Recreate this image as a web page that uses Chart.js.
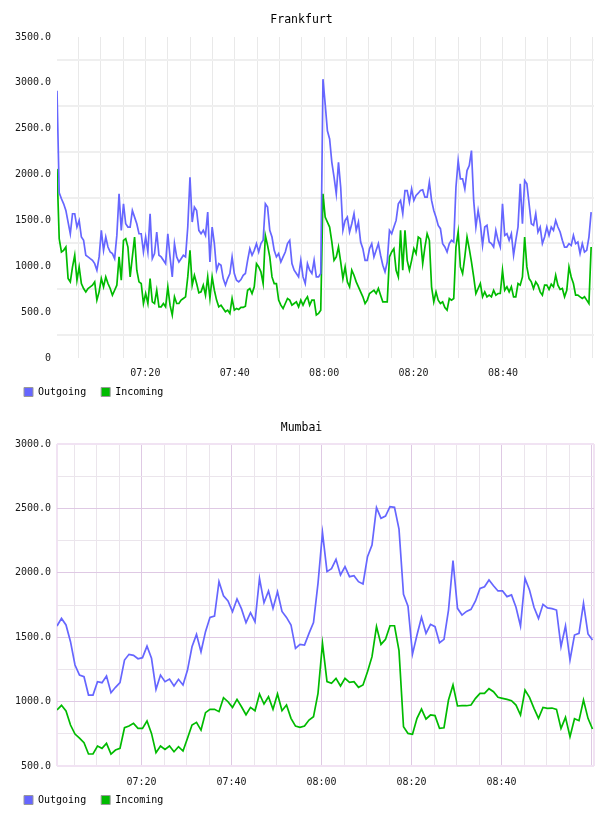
<!DOCTYPE html>
<html><head><meta charset="utf-8">
<script src="https://cdn.jsdelivr.net/npm/chart.js@4.4.0/dist/chart.umd.min.js"></script>
<style>
html,body{margin:0;padding:0;background:#fff;}
#wrap{position:relative;width:608px;height:816px;background:#fff;}
canvas{position:absolute;left:0;}
</style></head><body>
<div id="wrap">
<canvas id="c1" width="608" height="408" style="top:0"></canvas>
<canvas id="c2" width="608" height="408" style="top:408px"></canvas>
</div>
<script>
// ---------------- data ----------------
const SERIES_NAMES = ['Outgoing', 'Incoming'];
const CHART_TITLES = ['Frankfurt', 'Mumbai'];
const TIME_TICK_LABELS = ['07:20', '07:40', '08:00', '08:20', '08:40'];
const FRA_Y_TICK_LABELS = ['0', '500.0', '1000.0', '1500.0', '2000.0', '2500.0', '3000.0', '3500.0'];
const MUM_Y_TICK_LABELS = ['500.0', '1000.0', '1500.0', '2000.0', '2500.0', '3000.0'];

// sample times (seconds since midnight) for first sample, and sampling interval
const FRA_START_S = 25214;   // 07:00:14
const FRA_STEP_S = 29.75;
const MUM_START_S = 25273;   // 07:01:13
const MUM_STEP_S = 60;

const FRA_OUT = [
2913,1800,1736,1681,1609,1482,1355,1573,1573,1428,
1500,1319,1283,1120,1102,1083,1065,1029,957,1102,
1392,1174,1319,1210,1156,1138,1083,1337,1790,1392,
1681,1464,1428,1428,1609,1536,1464,1355,1355,1156,
1319,1156,1573,1083,1138,1374,1120,1102,1065,1029,
1355,1102,884,1247,1102,1047,1083,1120,1102,1428,
1971,1482,1645,1609,1392,1355,1392,1337,1591,1047,
1428,1247,957,1029,1011,866,794,866,921,1102,
921,848,830,855,902,921,1065,1192,1120,1174,
1247,1156,1247,1283,1681,1645,1392,1319,1174,1102,
1138,1047,1102,1156,1247,1283,1029,957,921,884,
1065,884,812,1029,957,921,1065,884,884,921,
3040,2768,2478,2388,2134,1971,1790,2134,1862,1392,
1500,1536,1374,1464,1573,1392,1482,1265,1192,1065,
1065,1192,1247,1102,1174,1247,1120,1011,939,1047,
1392,1355,1428,1500,1681,1718,1573,1826,1826,1700,
1844,1718,1772,1797,1826,1833,1754,1754,1917,1718,
1609,1536,1446,1410,1247,1210,1156,1247,1283,1265,
1862,2152,1953,1953,1844,2044,2098,2261,1718,1428,
1609,1464,1228,1428,1446,1265,1247,1210,1392,1283,
1210,1681,1337,1355,1283,1355,1120,1283,1428,1899,
1464,1935,1899,1681,1464,1446,1573,1374,1428,1247,
1319,1428,1337,1428,1392,1500,1428,1374,1283,1210,
1210,1247,1228,1337,1247,1265,1138,1247,1156,1174,
1319,1591
];
const FRA_IN = [
2062,1300,1156,1174,1210,866,830,993,1120,848,
993,812,758,721,758,776,794,830,631,721,
866,776,884,812,758,685,739,794,1102,848,
1283,1301,1210,884,1102,1319,957,830,812,594,
703,594,866,612,594,739,558,558,594,558,
776,576,468,667,594,594,631,649,667,884,
1174,794,902,812,710,721,794,685,884,649,
884,739,631,558,576,540,504,522,486,649,
522,540,529,551,551,565,739,758,703,776,
1029,993,939,812,1337,1228,1102,884,812,812,
631,576,540,594,649,631,576,594,612,558,
631,576,631,667,576,631,631,468,486,522,
1790,1536,1482,1428,1265,1065,1102,1210,1047,866,
993,830,776,957,902,830,776,721,667,594,
631,703,721,739,703,758,685,612,612,612,
1102,1156,1192,957,884,1392,957,1392,1065,957,
1065,1192,1138,1319,1301,1029,1210,1355,1283,776,
612,721,631,594,612,551,522,649,631,649,
1210,1374,993,921,1102,1319,1192,1047,884,703,
758,812,667,721,667,685,667,739,685,703,
703,957,739,776,721,776,667,667,812,794,
884,1319,993,866,830,758,830,794,721,685,
794,794,747,805,776,902,794,747,758,667,
739,993,884,812,685,685,667,649,667,631,
594,1210
];
const MUM_OUT = [
1587,1646,1595,1465,1284,1206,1193,1051,1051,1155,
1147,1199,1069,1111,1147,1323,1367,1359,1333,1341,
1431,1336,1095,1206,1155,1175,1121,1173,1129,1245,
1426,1522,1387,1543,1654,1664,1931,1822,1781,1698,
1797,1720,1613,1690,1620,1957,1768,1859,1724,1853,
1700,1654,1595,1413,1444,1439,1530,1613,1918,2312,
2009,2032,2105,1983,2048,1970,1978,1931,1913,2125,
2216,2506,2423,2441,2513,2508,2340,1833,1740,1369,
1517,1654,1530,1600,1582,1457,1483,1711,2094,1724,
1672,1700,1716,1781,1879,1892,1944,1900,1859,1859,
1815,1828,1732,1587,1957,1866,1732,1646,1755,1727,
1722,1711,1426,1587,1323,1517,1530,1763,1525,1478
];
const MUM_IN = [
935,971,927,818,748,717,681,593,593,655,
637,676,593,624,637,797,810,831,792,792,
849,753,603,655,629,655,611,650,616,715,
818,839,779,914,940,940,922,1030,999,955,
1017,960,898,955,929,1059,981,1038,940,1059,
929,973,870,810,800,810,857,883,1064,1452,
1155,1142,1180,1121,1180,1149,1155,1111,1129,1232,
1349,1582,1444,1483,1589,1589,1395,805,753,746,
870,942,865,896,891,792,797,1012,1129,966,
968,968,973,1025,1064,1064,1100,1077,1033,1025,
1017,1007,973,896,1090,1033,948,870,955,948,
950,940,792,878,728,867,852,1012,870,787
];

// ---------------- styles ----------------
const OUT_COLOR = '#6666ff';
const IN_COLOR = '#00bb00';
const MONO = "'DejaVu Sans Mono', monospace";
const TEXT_COLOR = '#1a1a1a';

function hhmm(sec) {
  const m = Math.round(sec / 60);
  const h = Math.floor(m / 60), mm = m % 60;
  return String(h).padStart(2, '0') + ':' + String(mm).padStart(2, '0');
}
function toPoints(arr, t0, step) {
  return arr.map((v, i) => ({x: t0 + i * step, y: v}));
}
function range(a, b, s) { const r = []; for (let v = a; v <= b + 1e-9; v += s) r.push(v); return r; }

function buildChart(id, cfg) {
  return new Chart(document.getElementById(id), {
    type: 'line',
    data: {
      datasets: [
        {label: SERIES_NAMES[0], data: toPoints(cfg.out, cfg.t0, cfg.step), borderColor: OUT_COLOR, backgroundColor: OUT_COLOR,
         borderWidth: 1.7, pointRadius: 0, tension: 0, fill: false},
        {label: SERIES_NAMES[1], data: toPoints(cfg.inc, cfg.t0, cfg.step), borderColor: IN_COLOR, backgroundColor: IN_COLOR,
         borderWidth: 1.7, pointRadius: 0, tension: 0, fill: false}
      ]
    },
    options: {
      responsive: false, animation: false, devicePixelRatio: 1,
      layout: {padding: {left: 9, right: 14, top: 0, bottom: 1}},
      plugins: {
        title: {display: true, text: cfg.title, color: '#000', font: {family: MONO, size: 11.5, weight: 'normal'},
                padding: {top: 13.1, bottom: cfg.titleBottom}},
        legend: {display: true, position: 'bottom', align: 'start',
          labels: {boxWidth: 9, boxHeight: 9, padding: 15, color: '#000', font: {family: MONO, size: 10},
            generateLabels: (chart) => chart.data.datasets.map((ds, i) => ({
              text: ds.label, fillStyle: ds.borderColor, strokeStyle: '#999', lineWidth: 1,
              hidden: false, datasetIndex: i}))}},
        tooltip: {enabled: false}
      },
      scales: {
        x: {
          type: 'linear', min: cfg.xMin, max: cfg.xMax,
          afterBuildTicks: (s) => { s.ticks = cfg.xTicks.map(v => ({value: v})); },
          afterFit: (s) => { s.height = 14; },
          border: {display: false},
          grid: {drawTicks: false, tickLength: 0, color: cfg.xGridColor, lineWidth: cfg.xGridWidth},
          ticks: {autoSkip: false, maxRotation: 0, minRotation: 0, mirror: true, padding: cfg.xLabelPad, color: TEXT_COLOR,
                  font: {family: MONO, size: 10},
                  callback: (v) => { const s = hhmm(v); return TIME_TICK_LABELS.includes(s) && v % 1200 === 0 ? s : ''; }}
        },
        y: {
          type: 'linear', min: cfg.yMin, max: cfg.yMax,
          afterBuildTicks: (s) => { s.ticks = range(cfg.yMin, cfg.yMax, 250).map(v => ({value: v})); },
          afterFit: (s) => { s.width = 48; },
          border: {display: false},
          grid: {drawTicks: false, tickLength: 0, color: cfg.yGridColor, lineWidth: cfg.yGridWidth},
          ticks: {autoSkip: false, padding: 6, color: TEXT_COLOR, font: {family: MONO, size: 10},
                  callback: (v) => v % 500 === 0 ? cfg.yLabels[(v - cfg.yMin) / 500] : ''}
        }
      }
    }
  });
}

// Frankfurt
const fraXMin = FRA_START_S, fraXMax = FRA_START_S + 7208;
buildChart('c1', {
  title: CHART_TITLES[0], titleBottom: 10.1, xLabelPad: -21,
  out: FRA_OUT, inc: FRA_IN, t0: FRA_START_S, step: FRA_STEP_S,
  xMin: fraXMin, xMax: fraXMax, xTicks: range(25500, 32400, 300).filter(v => v < fraXMax),
  yMin: 0, yMax: 3500, yLabels: FRA_Y_TICK_LABELS,
  xGridColor: '#e9e9e9', xGridWidth: 1,
  yGridColor: (c) => (c.tick && c.tick.value % 500 !== 0) ? '#efefef' : 'rgba(0,0,0,0)', yGridWidth: 2
});

// Mumbai
const mumXMin = MUM_START_S, mumXMax = MUM_START_S + 7160;
const MAJOR = '#dfc9e4', MINOR = '#ebe5ec', EDGE = '#f1e3f3';
buildChart('c2', {
  title: CHART_TITLES[1], titleBottom: 9.1, xLabelPad: -22,
  out: MUM_OUT, inc: MUM_IN, t0: MUM_START_S, step: MUM_STEP_S,
  xMin: mumXMin, xMax: mumXMax, xTicks: [mumXMin].concat(range(25500, 32400, 300).filter(v => v < mumXMax)).concat([mumXMax]),
  yMin: 500, yMax: 3000, yLabels: MUM_Y_TICK_LABELS,
  xGridColor: (c) => { const v = c.tick ? c.tick.value : 0; if (v === mumXMin || v === mumXMax) return EDGE; return v % 1200 === 0 ? MAJOR : MINOR; },
  xGridWidth: (c) => { const v = c.tick ? c.tick.value : 0; return (v === mumXMin || v === mumXMax) ? 2 : 1; },
  yGridColor: (c) => { const v = c.tick ? c.tick.value : 0; if (v === 500 || v === 3000) return EDGE; return v % 500 === 0 ? MAJOR : MINOR; },
  yGridWidth: (c) => { const v = c.tick ? c.tick.value : 0; return (v === 500 || v === 3000) ? 2 : 1; }
});
</script>
</body></html>
